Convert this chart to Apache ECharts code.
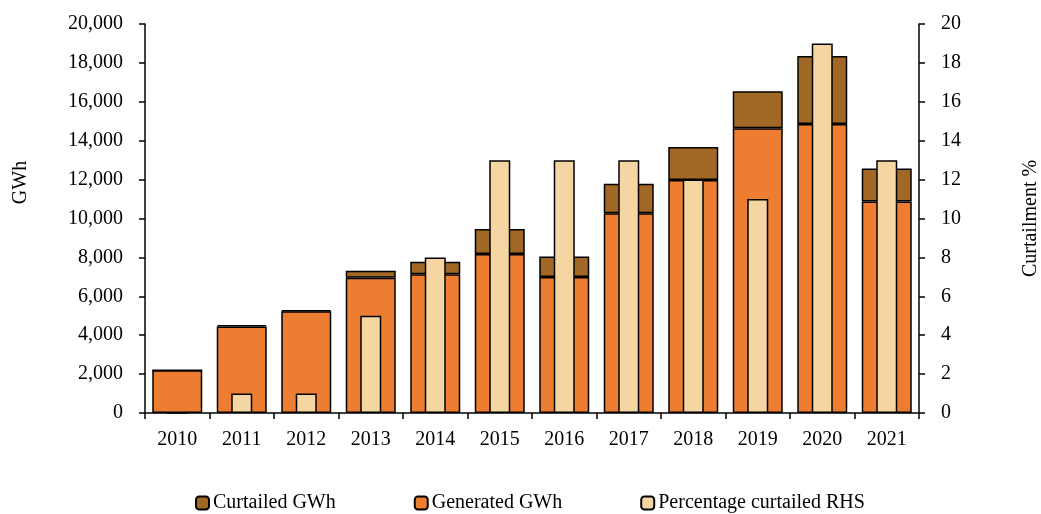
<!DOCTYPE html>
<html>
<head>
<meta charset="utf-8">
<script src="https://cdn.jsdelivr.net/npm/echarts@6/dist/echarts.min.js"></script>
<style>
  html, body { margin: 0; padding: 0; background: #fff; }
</style>
</head>
<body>
<div id="myChart" style="width: 1041px; height: 514px;"></div>
<script>
// data
let years = ['2010', '2011', '2012', '2013', '2014', '2015', '2016', '2017', '2018', '2019', '2020', '2021']
let generated = [2200, 4450, 5230, 6950, 7130, 8180, 6990, 10270, 11980, 14640, 14860, 10870]
let curtailed = [0, 70, 50, 370, 650, 1280, 1050, 1520, 1700, 1900, 3500, 1700]
let pctCurtailed = [0, 1, 1, 5, 8, 13, 13, 13, 12, 11, 19, 13]

let fontFamily = '"Liberation Serif", "DejaVu Serif", serif'

let myChart = echarts.init(document.getElementById('myChart'))
myChart.setOption({
    animation: false,
    textStyle: { fontFamily: fontFamily, color: '#000' },
    grid: { left: 145, right: 122, top: 24, bottom: 101, outerBoundsMode: 'none', containLabel: false },
    legend: {
        data: ['Curtailed GWh', 'Generated GWh', 'Percentage curtailed RHS'],
        top: 488,
        left: 190,
        itemWidth: 13,
        itemHeight: 13,
        itemGap: 78,
        textStyle: { fontFamily: fontFamily, fontSize: 20, color: '#000', padding: [0, 0, 0, -1] }
    },
    xAxis: [
        {
            type: 'category',
            data: years,
            axisLine: { lineStyle: { color: '#000', width: 1.5 } },
            axisTick: { show: true, length: 6, lineStyle: { color: '#000', width: 1.5 } },
            axisLabel: { fontSize: 20, color: '#000', margin: 17, fontFamily: fontFamily }
        },
        {
            type: 'category',
            data: years,
            show: false
        }
    ],
    yAxis: [
        {
            type: 'value',
            min: 0,
            max: 20000,
            interval: 2000,
            name: 'GWh',
            nameLocation: 'middle',
            nameGap: 114,
            nameTextStyle: { fontSize: 20, color: '#000', fontFamily: fontFamily, padding: [0, 0, 0, 72] },
            axisLine: { show: true, lineStyle: { color: '#000', width: 1.5 } },
            axisTick: { show: true, length: 6, lineStyle: { color: '#000', width: 1.5 } },
            splitLine: { show: false },
            axisLabel: {
                fontSize: 20, color: '#000', margin: 22, fontFamily: fontFamily,
                formatter: function (v) { return v.toLocaleString('en-US') }
            }
        },
        {
            type: 'value',
            min: 0,
            max: 20,
            interval: 2,
            name: 'Curtailment %',
            nameLocation: 'middle',
            nameGap: 102,
            nameTextStyle: { fontSize: 20, color: '#000', fontFamily: fontFamily },
            position: 'right',
            axisLine: { show: true, lineStyle: { color: '#000', width: 1.5 } },
            axisTick: { show: true, length: 6, lineStyle: { color: '#000', width: 1.5 } },
            splitLine: { show: false },
            axisLabel: { fontSize: 20, color: '#000', margin: 22, fontFamily: fontFamily }
        }
    ],
    series: [
        {
            name: 'Generated GWh',
            type: 'bar',
            stack: 'gwh',
            barWidth: 50,
            data: generated,
            itemStyle: { color: '#ED7D31', borderColor: '#000', borderWidth: 1.5 }
        },
        {
            name: 'Curtailed GWh',
            type: 'bar',
            stack: 'gwh',
            barWidth: 50,
            data: curtailed,
            itemStyle: { color: '#A06824', borderColor: '#000', borderWidth: 1.5 }
        },
        {
            name: 'Percentage curtailed RHS',
            type: 'bar',
            xAxisIndex: 1,
            yAxisIndex: 1,
            barWidth: 21,
            data: pctCurtailed,
            itemStyle: { color: '#F5D5A2', borderColor: '#000', borderWidth: 1.5 }
        }
    ]
});
</script>
</body>
</html>
